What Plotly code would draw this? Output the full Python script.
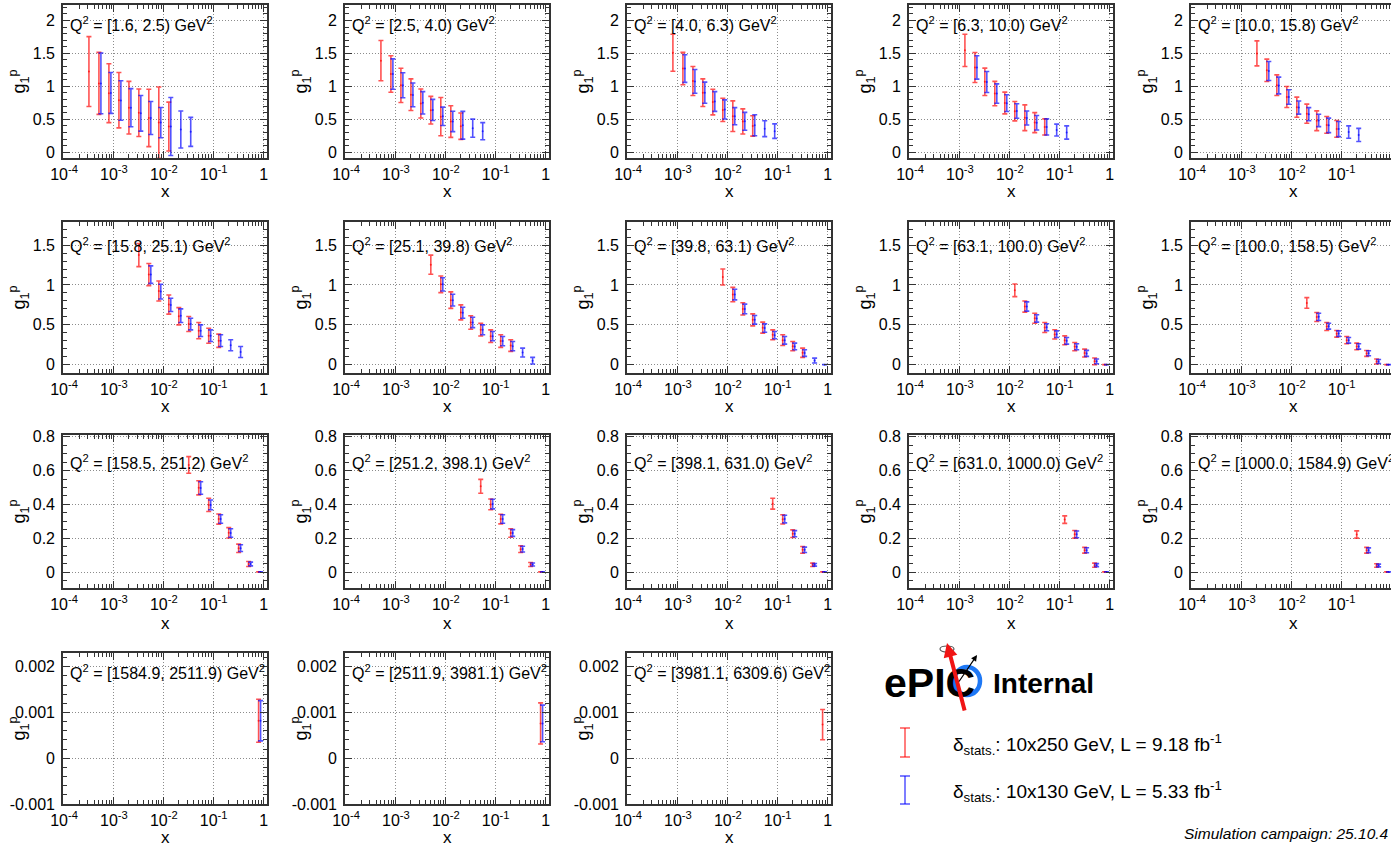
import plotly.graph_objects as go

# ---------------- data ----------------
X_BIN_CENTERS = [3.16e-4, 5.01e-4, 7.94e-4, 1.26e-3, 2.00e-3, 3.16e-3, 5.01e-3, 7.94e-3,
                 1.26e-2, 2.00e-2, 3.16e-2, 5.01e-2, 7.94e-2, 0.126, 0.200, 0.316, 0.501, 0.794]

Q2_LOW = [1.6, 2.5, 4.0, 6.3, 10.0, 15.8, 25.1, 39.8, 63.1, 100.0, 158.5, 251.2,
          398.1, 631.0, 1000.0, 1584.9, 2511.9, 3981.1]
Q2_HIGH = [2.5, 4.0, 6.3, 10.0, 15.8, 25.1, 39.8, 63.1, 100.0, 158.5, 251.2, 398.1,
           631.0, 1000.0, 1584.9, 2511.9, 3981.1, 6309.6]

RED_FIRST_BIN = [0, 1, 2, 3, 4, 5, 6, 7, 8, 9, 10, 11, 12, 13, 14, 17, 17, 17]
BLUE_FIRST_BIN = [1, 2, 3, 4, 5, 6, 7, 8, 9, 10, 11, 12, 13, 14, 15, 17, 17, 17]

RED_G1 = [
    [1.225, 1.045, 0.896, 0.79, 0.676, 0.60, 0.52, 0.45, 0.39],
    [1.39, 1.187, 1.015, 0.873, 0.74, 0.638, 0.54, 0.466, 0.395],
    [1.51, 1.27, 1.08, 0.904, 0.762, 0.643, 0.547, 0.468, 0.40],
    [1.546, 1.286, 1.068, 0.89, 0.747, 0.623, 0.524, 0.45, 0.385],
    [1.50, 1.243, 1.017, 0.838, 0.684, 0.585, 0.478, 0.415, 0.354],
    [1.375, 1.13, 0.925, 0.754, 0.608, 0.51, 0.427, 0.364, 0.30],
    [1.254, 1.008, 0.81, 0.656, 0.53, 0.44, 0.358, 0.296, 0.24],
    [1.10, 0.88, 0.70, 0.5625, 0.465, 0.375, 0.308, 0.233, 0.15],
    [0.933, 0.73, 0.583, 0.467, 0.38, 0.306, 0.227, 0.146, 0.042, 0.0008],
    [0.775, 0.598, 0.479, 0.3875, 0.308, 0.229, 0.142, 0.04, 0.0008],
    [0.633, 0.498, 0.397, 0.3135, 0.232, 0.1405, 0.048, 0.0008],
    [0.507, 0.40, 0.3135, 0.231, 0.1355, 0.045, 0.0008],
    [0.404, 0.3115, 0.227, 0.1315, 0.043, 0.0008],
    [0.31, 0.223, 0.129, 0.041, 0.0008],
    [0.222, 0.129, 0.039, 0.0008],
    [0.00082],
    [0.00076],
    [0.000735],
]
RED_ERR = [
    [0.53, 0.47, 0.446, 0.42, 0.40, 0.36, 0.435, 0.54, 0.37],
    [0.306, 0.276, 0.26, 0.24, 0.22, 0.21, 0.29, 0.24, 0.20],
    [0.28, 0.245, 0.22, 0.21, 0.195, 0.177, 0.233, 0.19, 0.155],
    [0.245, 0.228, 0.208, 0.185, 0.165, 0.147, 0.195, 0.152, 0.122],
    [0.19, 0.17, 0.157, 0.16, 0.152, 0.145, 0.15, 0.127, 0.127],
    [0.145, 0.14, 0.125, 0.12, 0.108, 0.094, 0.102, 0.094, 0.083],
    [0.12, 0.104, 0.104, 0.094, 0.085, 0.079, 0.079, 0.079, 0.073],
    [0.10, 0.09, 0.077, 0.075, 0.069, 0.0625, 0.067, 0.058, 0.058],
    [0.079, 0.07, 0.063, 0.0625, 0.058, 0.056, 0.052, 0.05, 0.042, 0.0004],
    [0.067, 0.056, 0.05, 0.042, 0.046, 0.042, 0.037, 0.031, 0.0004],
    [0.049, 0.042, 0.039, 0.03, 0.031, 0.0245, 0.015, 0.0004],
    [0.041, 0.032, 0.0285, 0.025, 0.02, 0.012, 0.0004],
    [0.032, 0.027, 0.0226, 0.02, 0.01, 0.0004],
    [0.022, 0.0226, 0.017, 0.012, 0.0004],
    [0.0216, 0.017, 0.01, 0.0004],
    [0.00047],
    [0.00045],
    [0.00033],
]
BLUE_G1 = [
    [1.045, 0.90, 0.785, 0.676, 0.59, 0.52, 0.45, 0.39, 0.345, 0.31],
    [1.187, 1.017, 0.87, 0.75, 0.643, 0.545, 0.468, 0.41, 0.365, 0.32],
    [1.27, 1.075, 0.904, 0.77, 0.65, 0.547, 0.47, 0.41, 0.357, 0.32],
    [1.286, 1.066, 0.89, 0.745, 0.625, 0.52, 0.448, 0.385, 0.337, 0.30],
    [1.233, 1.013, 0.838, 0.678, 0.577, 0.483, 0.408, 0.352, 0.306, 0.263],
    [1.13, 0.917, 0.75, 0.615, 0.51, 0.427, 0.364, 0.302, 0.244, 0.16],
    [1.008, 0.81, 0.652, 0.53, 0.4375, 0.358, 0.296, 0.233, 0.152, 0.05],
    [0.88, 0.70, 0.5625, 0.46, 0.371, 0.306, 0.229, 0.146, 0.052, 0.0008],
    [0.73, 0.58, 0.47, 0.383, 0.30, 0.225, 0.142, 0.042, 0.0008],
    [0.60, 0.483, 0.39, 0.306, 0.229, 0.144, 0.04, 0.0008],
    [0.497, 0.397, 0.3135, 0.231, 0.1415, 0.048, 0.0008],
    [0.402, 0.3135, 0.231, 0.136, 0.045, 0.0008],
    [0.313, 0.227, 0.1315, 0.043, 0.0008],
    [0.223, 0.129, 0.041, 0.0008],
    [0.129, 0.039, 0.0008],
    [0.00082],
    [0.00076],
    [],
]
BLUE_ERR = [
    [0.46, 0.31, 0.30, 0.29, 0.27, 0.25, 0.23, 0.44, 0.28, 0.22],
    [0.23, 0.19, 0.18, 0.17, 0.16, 0.14, 0.155, 0.21, 0.137, 0.13],
    [0.21, 0.18, 0.16, 0.15, 0.145, 0.13, 0.135, 0.16, 0.12, 0.11],
    [0.177, 0.16, 0.147, 0.127, 0.11, 0.107, 0.11, 0.122, 0.09, 0.10],
    [0.144, 0.127, 0.11, 0.10, 0.10, 0.094, 0.11, 0.114, 0.094, 0.10],
    [0.11, 0.092, 0.083, 0.085, 0.073, 0.073, 0.073, 0.073, 0.069, 0.069],
    [0.083, 0.073, 0.069, 0.065, 0.0625, 0.058, 0.058, 0.058, 0.056, 0.042],
    [0.067, 0.06, 0.054, 0.052, 0.046, 0.048, 0.042, 0.042, 0.031, 0.0004],
    [0.058, 0.046, 0.044, 0.042, 0.042, 0.0375, 0.0375, 0.03, 0.0004],
    [0.046, 0.037, 0.035, 0.035, 0.033, 0.031, 0.025, 0.0004],
    [0.037, 0.029, 0.025, 0.025, 0.02, 0.011, 0.0004],
    [0.0285, 0.025, 0.02, 0.017, 0.009, 0.0004],
    [0.0225, 0.018, 0.016, 0.008, 0.0004],
    [0.02, 0.015, 0.009, 0.0004],
    [0.014, 0.008, 0.0004],
    [0.00044],
    [0.0004],
    [],
]

X_TICKVALS = [1e-4, 1e-3, 1e-2, 1e-1, 1]
X_TICKTEXT = ["10<sup>-4</sup>", "10<sup>-3</sup>", "10<sup>-2</sup>", "10<sup>-1</sup>", "1"]

ROW_Y_RANGE = [[-0.087, 2.234], [-0.104, 1.79], [-0.094, 0.81], [-0.001, 0.0023]]
ROW_Y_TICKVALS = [[0, 0.5, 1, 1.5, 2], [0, 0.5, 1, 1.5], [0, 0.2, 0.4, 0.6, 0.8],
                  [-0.001, 0, 0.001, 0.002]]
ROW_Y_TICKTEXT = [["0", "0.5", "1", "1.5", "2"], ["0", "0.5", "1", "1.5"],
                  ["0", "0.2", "0.4", "0.6", "0.8"], ["-0.001", "0", "0.001", "0.002"]]
ROW_Y_MINOR = [0.1, 0.1, 0.05, 0.0002]

LEGEND_LABELS = ["δ<sub>stats.</sub>: 10x250 GeV, L = 9.18 fb<sup>-1</sup>",
                 "δ<sub>stats.</sub>: 10x130 GeV, L = 5.33 fb<sup>-1</sup>"]

# ---------------- styles / geometry ----------------
W, H = 1391, 843
FONT = "Liberation Sans, Arial, Helvetica, sans-serif"
RED = "rgba(255,0,0,0.68)"
BLUE = "rgba(0,0,255,0.68)"
BLUE_DODGE = 1.096  # horizontal display nudge of the second series
GRID = "#8c8c8c"

COL_LEFT = [63, 345, 627, 909, 1191]
PANEL_W = 204
ROW_TOP = [5, 222, 435, 653]
ROW_BOT = [158, 373, 588, 804]
ROW_LABEL_DY = [19, 23, 27, 19]
ROW_XTITLE_DY = [34, 33, 35, 33]
DECADE_PX = 49.9
X_LOG_MIN = -4.02


def px(xp):
    return xp / W


def py(yp):
    return 1 - yp / H


fig = go.Figure()
annotations = []
shapes = []

for p in range(18):
    r, c = divmod(p, 5)
    sid = "" if p == 0 else str(p + 1)
    left = COL_LEFT[c]
    right = min(left + PANEL_W, W)
    top, bot = ROW_TOP[r], ROW_BOT[r]

    rx = [X_BIN_CENTERS[RED_FIRST_BIN[p] + i] for i in range(len(RED_G1[p]))]
    fig.add_trace(go.Scatter(
        x=rx, y=RED_G1[p], mode="markers",
        marker=dict(size=2, color=RED),
        error_y=dict(type="data", array=RED_ERR[p], color=RED, thickness=1.6, width=2.5),
        xaxis="x" + sid, yaxis="y" + sid, showlegend=False, hoverinfo="skip"))
    if BLUE_G1[p]:
        bx = [X_BIN_CENTERS[BLUE_FIRST_BIN[p] + i] * BLUE_DODGE for i in range(len(BLUE_G1[p]))]
        fig.add_trace(go.Scatter(
            x=bx, y=BLUE_G1[p], mode="markers",
            marker=dict(size=2, color=BLUE),
            error_y=dict(type="data", array=BLUE_ERR[p], color=BLUE, thickness=1.6, width=2.5),
            xaxis="x" + sid, yaxis="y" + sid, showlegend=False, hoverinfo="skip"))

    x_max = X_LOG_MIN + (right - left) / DECADE_PX
    fig.layout["xaxis" + sid] = dict(
        type="log", range=[X_LOG_MIN, x_max], domain=[px(left), px(right)],
        anchor="y" + sid, tickmode="array", tickvals=X_TICKVALS, ticktext=X_TICKTEXT,
        ticks="inside", ticklen=7, tickcolor="#333", tickwidth=1,
        showline=True, linecolor="#333", linewidth=1.6, mirror="ticks",
        showgrid=True, gridcolor=GRID, griddash="1px,2px", gridwidth=1,
        zeroline=False, tickfont=dict(size=16, color="black", family=FONT),
        ticklabelstandoff=1,
        minor=dict(ticks="inside", ticklen=4, dtick="D1", tickcolor="#333", showgrid=False),
    )
    fig.layout["yaxis" + sid] = dict(
        range=ROW_Y_RANGE[r], domain=[py(bot), py(top)], anchor="x" + sid,
        tickmode="array", tickvals=ROW_Y_TICKVALS[r], ticktext=ROW_Y_TICKTEXT[r],
        ticks="inside", ticklen=7, tickcolor="#333", tickwidth=1,
        showline=True, linecolor="#333", linewidth=1.6,
        mirror=("ticks" if c < 4 else False),
        showgrid=True, gridcolor=GRID, griddash="1px,2px", gridwidth=1,
        zeroline=False, tickfont=dict(size=16, color="black", family=FONT),
        ticklabelstandoff=3,
        minor=dict(ticks="inside", ticklen=4, dtick=ROW_Y_MINOR[r], tickcolor="#333",
                   showgrid=False),
    )

    # panel label
    annotations.append(dict(
        text=f"Q<sup>2</sup> = [{Q2_LOW[p]:.1f}, {Q2_HIGH[p]:.1f}) GeV<sup>2</sup>",
        x=px(left + 5), y=py(top + ROW_LABEL_DY[r]), xref="paper", yref="paper",
        xanchor="left", yanchor="middle", showarrow=False,
        font=dict(size=16, color="black", family=FONT)))
    # axis titles
    annotations.append(dict(
        text="x", x=px((left + left + PANEL_W) / 2), y=py(bot + ROW_XTITLE_DY[r]),
        xref="paper", yref="paper", xanchor="center", yanchor="middle", showarrow=False,
        borderpad=0, font=dict(size=17, color="black", family=FONT)))
    annotations.append(dict(
        text="g<sub>1</sub><sup>p</sup>", x=px(left - 44), y=py((top + bot) / 2),
        xref="paper", yref="paper", xanchor="center", yanchor="middle", textangle=-90,
        showarrow=False, font=dict(size=18, color="black", family=FONT)))

# ---------------- ePIC logo (approximation) ----------------
shapes.append(dict(type="circle", xref="paper", yref="paper",
                   x0=px(954), x1=px(980), y0=py(695), y1=py(667),
                   line=dict(color="rgb(30,120,245)", width=4.5), layer="above"))
shapes.append(dict(type="circle", xref="paper", yref="paper",
                   x0=px(940), x1=px(954), y0=py(652), y1=py(646),
                   line=dict(color="#555", width=1.2), layer="above"))
annotations.append(dict(text="<b>ePIC</b>", x=px(882), y=py(683), xref="paper", yref="paper",
                        xanchor="left", yanchor="middle", showarrow=False,
                        font=dict(size=41, color="black", family=FONT)))
annotations.append(dict(text="", x=px(947), y=py(643), xref="paper", yref="paper",
                        ax=18, ay=69, showarrow=True, arrowhead=2, arrowsize=0.7,
                        arrowwidth=4, arrowcolor="rgb(240,20,20)"))
annotations.append(dict(text="", x=px(977), y=py(655), xref="paper", yref="paper",
                        ax=-19, ay=28, showarrow=True, arrowhead=2, arrowsize=1,
                        arrowwidth=1.2, arrowcolor="black"))
annotations.append(dict(text="<b>Internal</b>", x=px(991), y=py(683), xref="paper", yref="paper",
                        xanchor="left", yanchor="middle", showarrow=False,
                        font=dict(size=28, color="black", family=FONT)))

# ---------------- legend ----------------
for (ytop, ybot, col, label, ytext) in [(728, 757, RED, LEGEND_LABELS[0], 744),
                                        (776, 804, BLUE, LEGEND_LABELS[1], 791)]:
    shapes.append(dict(type="line", xref="paper", yref="paper", x0=px(905), x1=px(905),
                       y0=py(ytop), y1=py(ybot), line=dict(color=col, width=1.5)))
    for yy in (ytop, ybot):
        shapes.append(dict(type="line", xref="paper", yref="paper", x0=px(900), x1=px(910),
                           y0=py(yy), y1=py(yy), line=dict(color=col, width=1.5)))
    annotations.append(dict(text=label, x=px(951), y=py(ytext), xref="paper", yref="paper",
                            xanchor="left", yanchor="middle", showarrow=False,
                            font=dict(size=19, color="black", family=FONT)))

annotations.append(dict(text="<i>Simulation campaign: 25.10.4</i>", x=px(1182), y=py(833),
                        xref="paper", yref="paper", xanchor="left", yanchor="middle",
                        showarrow=False, font=dict(size=15.5, color="black", family=FONT)))

fig.update_layout(
    width=W, height=H, margin=dict(l=0, r=0, t=0, b=0, autoexpand=False),
    plot_bgcolor="white", paper_bgcolor="white",
    font=dict(family=FONT, color="black"),
    annotations=annotations, shapes=shapes, showlegend=False,
)

fig.write_html("out.html", config={"displayModeBar": False},
               post_script="document.body.style.margin='0';document.body.style.overflow='hidden';")
